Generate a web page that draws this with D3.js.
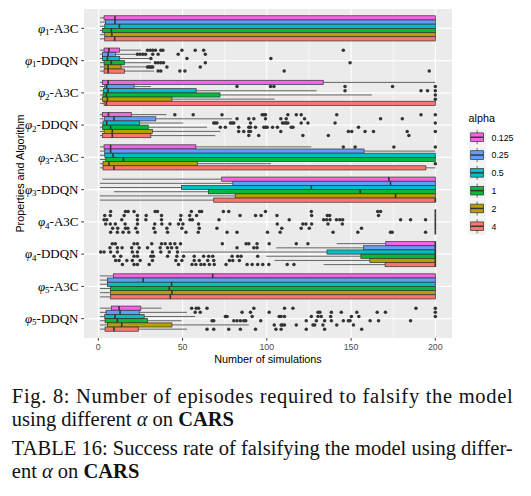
<!DOCTYPE html>
<html>
<head>
<meta charset="utf-8">
<script src="https://cdn.jsdelivr.net/npm/d3@7"></script>
<style>
  body { margin: 0; background: #fff; }
  svg { display: block; }
</style>
</head>
<body>
<svg id="chart" width="531" height="496"></svg>
<script>
// ---------------- data
var categories = ["φ1-A3C", "φ1-DDQN", "φ2-A3C", "φ2-DDQN", "φ3-A3C",
                  "φ3-DDQN", "φ4-A3C", "φ4-DDQN", "φ5-A3C", "φ5-DDQN"];
var alphas = ["0.125", "0.25", "0.5", "1", "2", "4"];
var alphaColors = ["#F564E3", "#619CFF", "#00BFC4", "#00BA38", "#B79F00", "#F8766D"];
var xTicks = [0, 50, 100, 150, 200];
var xMinor = [25, 75, 125, 175];

// [lower whisker, q1, median, q3, upper whisker], one row per alpha
var phi1A3C = [[1,3.4,9.9,200,200],[1,4.2,9.9,200,200],[1,3.8,12.5,200,200],
               [1,2.4,7.7,200,200],[1,3.8,8,200,200],[1,3.8,9.7,200,200]];
var phi1A3COut = [[],[],[],[],[],[]];

var phi1DDQN = [[1,3.4,6.3,12.5,25.2],[1,2.4,5.8,10.3,22.2],[1,2.4,5.4,12.7,30.2],
                [1,3.4,7.7,15.5,31.2],[1,3.8,5.8,13.5,28.2],[1,3.4,5.8,15.5,33.1]];
var phi1DDQNOut = [[29.2,30.8,32.3,33.9,37.1,38.3,49.6,57.5,62.5,145.4],
                   [23.2,24.8,26.4,28,32.3,35.5,47.4,63.5],
                   [31.2,52.6,102.4],
                   [33.9,35.5,37.1,38.7,63.5,149.4],
                   [29.2,30,30.8,31.5,32.3,40.7,60.5],
                   [35.5,37.1,48.4,51.4,110.3,196.4]];

var phi2A3C = [[1,2.4,5.8,133.5,200],[1,3.8,5,21.2,31.2],[1,3,5.8,58.1,129.6],
               [1,2.8,4.8,72.2,162.3],[1,2.4,5.4,43.7,104.6],[1,3.4,4.8,200,200]];
var phi2A3COut = [[],
                  [82.3,102.2,104.2,146.4,174.6,200],
                  [146.4,191.5,195.4,200],
                  [200],
                  [200],
                  []];

var phi2DDQN = [[1,2.4,6,19.6,40.5],[1,3.8,9.3,34.1,79.4],[1,2.8,5,24.6,50.4],
                [1,2.4,7.3,29.6,64.5],[1,3.4,8.3,32.1,72.4],[1,2.4,8.3,31.2,69.4]];
var phi2DDQNOut = [[45.4,56.3,73.4,97.2,98.2,99.2,112.5,117.5,120.4,141.5,191.5,200],
                   [82.3,89.3,92.3,99.2,108.3,111.5,122.4,167.5,180.4],
                   [68.5,69.4,70.4,78.4,79.4,80.4,90.3,109.3,110.5,111.5,112.5,120.4,124.4,140.5,200],
                   [72.4,75.4,83.3,89.3,90.3,93.3,98.2,99.2,100.2,103.4,106.3,114.5,115.5,154.4],
                   [83.3,86.3,89.3,90.3,108.3,148.4,150.4,158.3,163.3,183.3,200],
                   [89.3,95.2,121.4,136.5,184.3]];

var phi3A3C = [[1,3.4,7.3,57.9,126.4],[1,3.8,7.3,157.7,200],[1,3.8,8.7,200,200],
               [1,4.4,14.9,200,200],[1,2.8,6.3,58.9,102.4],[1,2.8,9.3,194.4,200]];
var phi3A3COut = [[145.4,152.4,175.4,200],[],[],[],[200],[]];

var phi3DDQN = [[2.4,73.2,172.4,200,200],[1,79.8,173.4,200,200],[1,49.4,126.4,200,200],
                [9.3,65.3,155.4,200,200],[1,81.2,176.4,200,200],[1,68.5,200,200,200]];
var phi3DDQNOut = [[],[],[],[],[],[]];

var phi4A3C = [[200,200,200,200,200],[200,200,200,200,200],[200,200,200,200,200],
               [200,200,200,200,200],[200,200,200,200,200],[200,200,200,200,200]];
var phi4A3COut = [[7.3,16.1,17.7,21.2,33.7,35.1,55.2,60.1,61.3,74.2,77.4,99.2,126.4,165.8,167.5],
                  [3.8,7.1,15.3,23.2,28.4,37.5,49,54.2,58.3,84.1,93.3,96.6,106,126.6,135.9,137.3,166.3],
                  [3.4,5,13.9,23.2,28.2,37.5,48.8,54.4,55.8,71.6,113.3,133.7,135.5,137.5,141.3,143.3,145,179.4,185.3,194.2],
                  [4.4,7.1,10.1,15.9,23.2,33.5,37.7,42.5,47.6,50.2,59.5,106.2,121.4,123.2,126.6,136.3,144.8],
                  [8.5,11.5,16.1,17.5,22.2,32.9,40.7,49.6,59.9,70.4,108.9,120.4,125.2,156.2],
                  [7.3,11.3,14.7,18.1,23.2,33.7,41.1,52,59.3,76.4,82.3,100.4,107.9,139.3,154,173.4,174.4,194.2]];

var phi4DDQN = [[141.5,170.6,200,200,200],[105.6,157.3,200,200,200],[49,135.7,200,200,200],
                [99.6,155.8,200,200,200],[104.6,161.1,200,200,200],[133.7,170.2,200,200,200]];
var phi4DDQNOut = [[8.3,10.1,21.2,23.2,31.7,37.5,39.7,42.7,45.4,48.8,73.6,87.7,89.3,94.2,101.4,117.5,124.4],
                   [6.9,11.3,14.1,19.8,24.2,29.2,36.7,41.1,43.5,46.6,82.3,92.3,94.2],
                   [1.4,3.4,7.3,11.3,20.2,23.2,32.1,37.1,42.1,47],
                   [9.3,13.3,21.2,23.2,31.2,32.7,41.1,46.6,50.6,56.9,62.5,65.5,67.9,79.4,82.7,84.7,94.6],
                   [10.3,12.3,16.9,20.2,24.8,32.1,46,49.6,56.9,59.9,64.9,68.5,77.8,79.8,83.7],
                   [14.3,21.2,23.2,30.2,47.6,55.6,57.9,60.9,62.9,65.9,68.8,75.8,88.3,91.3,94.6,97.6,101.2,112.1,116.1]];

var phi5A3C = [[1,8.9,67.9,200,200],[1,5.4,26.6,200,200],[1,5.4,43.5,200,200],
               [1,7.3,42.1,200,200],[1,7.3,43.7,200,200],[1,7.3,42.7,200,200]];
var phi5A3COut = [[],[],[],[],[],[]];

var phi5DDQN = [[1,7.7,12.3,25.2,37.5],[1,4.6,12.9,24.6,52.6],[1,3.8,9.9,27.2,57.5],
                [1,4,11.3,29.2,49.4],[1,5.4,13.9,43.7,89.3],[1,4,9.3,23.8,52.6]];
var phi5DDQNOut = [[55.4,58.1,59.5,64.5,92.3,110.5,115.5,188.5,200],
                   [57.5,60.5,85.3,90.3,101.4,130.4,131.5,138.3,144.2,153.4,165.5,170.4,200],
                   [75.4,76.4,91.3,107.3,108.5,110.5,126.4,130.4,132.3,137.9,150.2,154.6,200],
                   [67.5,68.5,80.4,82.3,84.3,86.3,87.5,96.4,123.4,129.4,134.3,138.3,145.4,148.4,149.4,161.3,166.3,185.3],
                   [104.4,108.5,109.3,110.5,117.5,127.4,128.4,133.3,141.5,151.4],
                   [64.5,68.5,77.4,84.3,93.3,105.4,108.5,123.4,134.3,156.3]];

var boxStats = [phi1A3C, phi1DDQN, phi2A3C, phi2DDQN, phi3A3C,
                phi3DDQN, phi4A3C, phi4DDQN, phi5A3C, phi5DDQN];
var outliers = [phi1A3COut, phi1DDQNOut, phi2A3COut, phi2DDQNOut, phi3A3COut,
                phi3DDQNOut, phi4A3COut, phi4DDQNOut, phi5A3COut, phi5DDQNOut];

// ---------------- layout
var _panel = {left: 84, top: 9, right: 452, bottom: 338},
    _ink = "#333333",
    _sans = "'Liberation Sans', Arial, sans-serif",
    _serif = "'Liberation Serif', 'Times New Roman', serif";

var svg = d3.select("#chart");

var x = d3.scaleLinear().domain([-8.5, 209.9]).range([_panel.left, _panel.right]);
var y = d3.scalePoint().domain(categories).range([_panel.top, _panel.bottom]).padding(0.6);
var half = y.step() * 0.39;
var yIn = d3.scaleBand().domain(alphas).range([-half, half]);
var bw = yIn.bandwidth();

//--------------------------------- panel + grid
svg.append("rect")
   .attr("x", _panel.left).attr("y", _panel.top)
   .attr("width", _panel.right - _panel.left).attr("height", _panel.bottom - _panel.top)
   .attr("fill", "#EBEBEB");

var grid = svg.append("g").attr("stroke", "#fff");
grid.selectAll(".minor").data(xMinor).enter().append("line")
    .attr("x1", x).attr("x2", x).attr("y1", _panel.top).attr("y2", _panel.bottom)
    .attr("stroke-width", 0.55);
grid.selectAll(".major").data(xTicks).enter().append("line")
    .attr("x1", x).attr("x2", x).attr("y1", _panel.top).attr("y2", _panel.bottom)
    .attr("stroke-width", 1.1);
grid.selectAll(".ymajor").data(categories).enter().append("line")
    .attr("x1", _panel.left).attr("x2", _panel.right).attr("y1", y).attr("y2", y)
    .attr("stroke-width", 1.1);

//--------------------------------- boxes
var marks = svg.append("g");
categories.forEach(function (cat, i) {
  alphas.forEach(function (a, j) {
    var s = boxStats[i][j],
        top = y(cat) + yIn(a),
        yc = top + bw / 2,
        g = marks.append("g");

    g.append("line").attr("x1", x(s[0])).attr("x2", x(s[1])).attr("y1", yc).attr("y2", yc)
     .attr("stroke", "#555").attr("stroke-width", 0.9);
    g.append("line").attr("x1", x(s[3])).attr("x2", x(s[4])).attr("y1", yc).attr("y2", yc)
     .attr("stroke", "#555").attr("stroke-width", 0.9);
    g.append("rect")
     .attr("x", x(s[1])).attr("y", top)
     .attr("width", Math.max(0, x(s[3]) - x(s[1]))).attr("height", bw)
     .attr("fill", alphaColors[j]).attr("stroke", _ink).attr("stroke-width", 0.7);
    g.append("line").attr("x1", x(s[2])).attr("x2", x(s[2])).attr("y1", top).attr("y2", top + bw)
     .attr("stroke", _ink).attr("stroke-width", 1.6);

    g.selectAll("circle").data(outliers[i][j]).enter().append("circle")
     .attr("cx", function (d) { return x(d); })
     .attr("cy", yc).attr("r", 1.75).attr("fill", _ink);
  });
});

//--------------------------------- axes
var xAxis = svg.append("g");
xAxis.selectAll("line").data(xTicks).enter().append("line")
     .attr("x1", x).attr("x2", x).attr("y1", _panel.bottom).attr("y2", _panel.bottom + 2.7)
     .attr("stroke", _ink).attr("stroke-width", 1);
xAxis.selectAll("text").data(xTicks).enter().append("text")
     .attr("x", x).attr("y", 349.5).attr("text-anchor", "middle")
     .attr("font-family", _sans).attr("font-size", 8.8).attr("fill", "#4D4D4D")
     .text(function (d) { return d; });
svg.append("text")
   .attr("x", (_panel.left + _panel.right) / 2).attr("y", 363)
   .attr("text-anchor", "middle").attr("font-family", _sans).attr("font-size", 10.8)
   .text("Number of simulations");

var yAxis = svg.append("g");
yAxis.selectAll("line").data(categories).enter().append("line")
     .attr("x1", _panel.left - 2.7).attr("x2", _panel.left).attr("y1", y).attr("y2", y)
     .attr("stroke", _ink).attr("stroke-width", 1);
yAxis.selectAll("text").data(categories).enter().append("text")
     .attr("x", 78.5).attr("y", function (d) { return y(d) + 4.3; })
     .attr("text-anchor", "end").attr("font-family", _serif).attr("font-size", 13)
     .each(function (d) {
        var m = d.match(/^φ(\d)-(.*)$/), t = d3.select(this);
        t.append("tspan").attr("font-style", "italic").text("φ");
        t.append("tspan").attr("font-size", 9).attr("dy", 2.5).text(m[1]);
        t.append("tspan").attr("dy", -2.5).text("-" + m[2]);
     });
svg.append("text")
   .attr("transform", "translate(23.5," + ((_panel.top + _panel.bottom) / 2) + ") rotate(-90)")
   .attr("text-anchor", "middle").attr("font-family", _sans).attr("font-size", 10.8)
   .text("Properties and Algorithm");

//--------------------------------- legend
var legend = svg.append("g").attr("transform", "translate(468.5,0)");
legend.append("text").attr("x", 0).attr("y", 122)
      .attr("font-family", _sans).attr("font-size", 10.8).text("alpha");
var key = 17.3;
alphas.forEach(function (a, j) {
  var ky = 128.6 + j * 17.8,
      k = legend.append("g").attr("transform", "translate(0," + ky + ")");
  k.append("rect").attr("width", key).attr("height", key).attr("fill", "#F2F2F2");
  k.append("line").attr("x1", key / 2).attr("x2", key / 2).attr("y1", key * 0.1).attr("y2", key * 0.9)
   .attr("stroke", _ink).attr("stroke-width", 0.7);
  k.append("rect").attr("x", key * 0.125).attr("y", key * 0.25)
   .attr("width", key * 0.75).attr("height", key * 0.5)
   .attr("fill", alphaColors[j]).attr("stroke", _ink).attr("stroke-width", 0.7);
  k.append("line").attr("x1", key * 0.125).attr("x2", key * 0.875).attr("y1", key / 2).attr("y2", key / 2)
   .attr("stroke", _ink).attr("stroke-width", 1.4);
  legend.append("text").attr("x", 23).attr("y", ky + key / 2 + 3.3)
        .attr("font-family", _sans).attr("font-size", 8.8).text(a);
});

//--------------------------------- caption
function captionLine(yPos, parts, justify) {
  var t = svg.append("text").attr("x", 11.8).attr("y", yPos)
             .attr("font-family", _serif).attr("font-size", 20.5).attr("fill", "#111");
  parts.forEach(function (p) {
    var sp = t.append("tspan").text(p.s);
    if (p.i) sp.attr("font-style", "italic");
    if (p.b) sp.attr("font-weight", "bold");
  });
  if (justify) t.attr("textLength", 512.7 - 11.8).attr("lengthAdjust", "spacing");
}
captionLine(402.8, [{s: "Fig. 8: Number of episodes required to falsify the model"}], true);
captionLine(425.8, [{s: "using different "}, {s: "α", i: 1}, {s: " on "}, {s: "CARS", b: 1}], false);
captionLine(454.5, [{s: "TABLE 16: Success rate of falsifying the model using differ-"}], true);
captionLine(478.2, [{s: "ent "}, {s: "α", i: 1}, {s: " on "}, {s: "CARS", b: 1}], false);
</script>
</body>
</html>
